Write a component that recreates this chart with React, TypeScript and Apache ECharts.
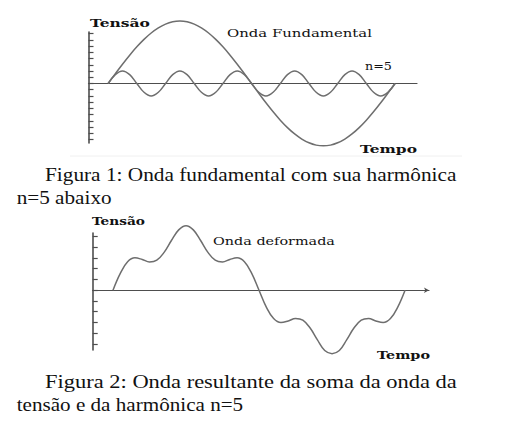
import React, { useEffect, useRef } from "react";
import * as echarts from "echarts";

// time in ms (one 20 ms period of the fundamental)
const TIME_MS = [
  0, 0.5, 1, 1.5, 2, 2.5, 3, 3.5, 4, 4.5, 5, 5.5, 6, 6.5, 7, 7.5, 8, 8.5, 9, 9.5,
  10, 10.5, 11, 11.5, 12, 12.5, 13, 13.5, 14, 14.5, 15, 15.5, 16, 16.5, 17, 17.5,
  18, 18.5, 19, 19.5, 20,
];

// Figure 1: fundamental wave
const FUNDAMENTAL = [
  0, 1.56, 3.09, 4.54, 5.88, 7.07, 8.09, 8.91, 9.51, 9.88, 10, 9.88, 9.51, 8.91,
  8.09, 7.07, 5.88, 4.54, 3.09, 1.56, 0, -1.56, -3.09, -4.54, -5.88, -7.07, -8.09,
  -8.91, -9.51, -9.88, -10, -9.88, -9.51, -8.91, -8.09, -7.07, -5.88, -4.54,
  -3.09, -1.56, 0,
];

// Figure 1: 5th harmonic
const HARMONIC_N5 = [
  0, 1.41, 2, 1.41, 0, -1.41, -2, -1.41, 0, 1.41, 2, 1.41, 0, -1.41, -2, -1.41,
  0, 1.41, 2, 1.41, 0, -1.41, -2, -1.41, 0, 1.41, 2, 1.41, 0, -1.41, -2, -1.41,
  0, 1.41, 2, 1.41, 0, -1.41, -2, -1.41, 0,
];

// Figure 2: deformed wave
const DEFORMED = [
  0, 1.57, 2.64, 3.01, 2.86, 2.63, 2.79, 3.52, 4.62, 5.61, 6.0, 5.61, 4.62, 3.52,
  2.79, 2.63, 2.86, 3.01, 2.64, 1.57, 0, -1.57, -2.64, -3.01, -2.86, -2.63, -2.79,
  -3.52, -4.62, -5.61, -5.9, -5.61, -4.62, -3.52, -2.79, -2.63, -2.86, -3.01,
  -2.64, -1.57, 0,
];

const FIG1_TICKS = [-9, -8, -7, -6, -5, -4, -3, -2, -1, 0, 1, 2, 3, 4, 5, 6, 7, 8];
const FIG2_TICKS = [-5, -4, -3, -2, -1, 0, 1, 2, 3, 4, 5];

const AXIS_COLOR = "#4e4e4e";
const WAVE_COLOR = "#6e6e6e";
const TEXT_COLOR = "#111";

let measureCtx: CanvasRenderingContext2D | null = null;
function measure(text: string, font: string): number {
  if (!measureCtx) measureCtx = document.createElement("canvas").getContext("2d");
  measureCtx!.font = font;
  return measureCtx!.measureText(text).width;
}

function fitText(
  text: string,
  x0: number,
  x1: number,
  cy: number,
  size: number,
  family: string,
  weight: string
) {
  const w = measure(text, `${weight} ${size}px ${family}`);
  const scaleX = w > 0 ? (x1 - x0) / w : 1;
  return {
    type: "text",
    x: x0,
    y: cy,
    scaleX,
    silent: true,
    style: {
      text,
      fontSize: size,
      fontFamily: family,
      fontWeight: weight,
      fill: TEXT_COLOR,
      align: "left",
      verticalAlign: "middle",
      textAlign: "left",
      textVerticalAlign: "middle",
    },
  };
}

const SERIF_CHART = '"DejaVu Serif", serif';
const SERIF_TEXT = '"Liberation Serif", "Times New Roman", Times, serif';

function buildOption() {
  const pairs = (vals: number[]) => TIME_MS.map((t, i) => [t, vals[i]]);

  const xAxisBase = (gridIndex: number, min: number, max: number, arrow: boolean) => ({
    type: "value",
    gridIndex,
    min,
    max,
    axisLine: {
      show: true,
      onZero: true,
      symbol: arrow ? ["none", "arrow"] : ["none", "none"],
      symbolSize: [4, 5],
      lineStyle: { color: AXIS_COLOR, width: 1.2 },
    },
    axisTick: { show: false },
    axisLabel: { show: false },
    splitLine: { show: false },
  });

  const yAxisBase = (gridIndex: number, min: number, max: number, ticks: number[], len: number) => ({
    type: "value",
    gridIndex,
    min,
    max,
    axisLine: { show: true, onZero: false, lineStyle: { color: AXIS_COLOR, width: 1.6 } },
    axisTick: {
      show: true,
      inside: true,
      length: len,
      customValues: ticks,
      lineStyle: { color: AXIS_COLOR, width: 1.2 },
    },
    axisLabel: { show: false, customValues: ticks },
    splitLine: { show: false },
  });

  const lineSeries = (xi: number, vals: number[]) => ({
    type: "line",
    xAxisIndex: xi,
    yAxisIndex: xi,
    data: pairs(vals),
    symbol: "none",
    showSymbol: false,
    smooth: 0.4,
    clip: false,
    silent: true,
    lineStyle: { color: WAVE_COLOR, width: 1.5 },
  });

  return {
    animation: false,
    backgroundColor: "#ffffff",
    grid: [
      { left: 88.5, top: 32, width: 328.5, height: 111 },
      { left: 92.7, top: 233, width: 336.3, height: 117 },
    ],
    xAxis: [xAxisBase(0, -1.37, 21.53, false), xAxisBase(1, -1.39, 21.64, true)],
    yAxis: [
      yAxisBase(0, -9.54, 8.25, FIG1_TICKS, 5),
      yAxisBase(1, -5.56, 5.32, FIG2_TICKS, 5),
    ],
    series: [lineSeries(0, FUNDAMENTAL), lineSeries(0, HARMONIC_N5), lineSeries(1, DEFORMED)],
    graphic: [
      // Figure 1 labels
      fitText("Tensão", 90, 150, 22.5, 11.5, SERIF_CHART, "bold"),
      fitText("Onda Fundamental", 227, 372, 33.3, 11.5, SERIF_CHART, "normal"),
      fitText("n=5", 365, 392, 66, 11.5, SERIF_CHART, "normal"),
      fitText("Tempo", 360, 417, 148.3, 11.5, SERIF_CHART, "bold"),
      {
        type: "line",
        silent: true,
        shape: { x1: 70, y1: 156, x2: 462, y2: 156 },
        style: { stroke: "#f0f0f0", lineWidth: 1 },
      },
      // Caption 1
      fitText("Figura 1: Onda fundamental com sua harmônica", 45, 456.7, 174.5, 18.5, SERIF_TEXT, "normal"),
      fitText("n=5 abaixo", 16.7, 111.7, 197.8, 18.5, SERIF_TEXT, "normal"),
      // Figure 2 labels
      fitText("Tensão", 92, 145, 221, 11.5, SERIF_CHART, "bold"),
      fitText("Onda deformada", 213, 335, 241, 11.5, SERIF_CHART, "normal"),
      fitText("Tempo", 377, 430, 355, 11.5, SERIF_CHART, "bold"),
      // Caption 2
      fitText("Figura 2: Onda resultante da soma da onda da", 45, 457, 381.7, 18.5, SERIF_TEXT, "normal"),
      fitText("tensão e da harmônica n=5", 16.7, 243.3, 404.5, 18.5, SERIF_TEXT, "normal"),
    ],
  };
}

export default function App() {
  const ref = useRef<HTMLDivElement>(null);
  useEffect(() => {
    if (!ref.current) return;
    const chart = echarts.init(ref.current, undefined, { renderer: "svg" });
    chart.setOption(buildOption() as any);
    return () => chart.dispose();
  }, []);
  return (
    <div
      ref={ref}
      style={{ position: "fixed", left: 0, top: 0, width: 509, height: 423, background: "#fff" }}
    />
  );
}
